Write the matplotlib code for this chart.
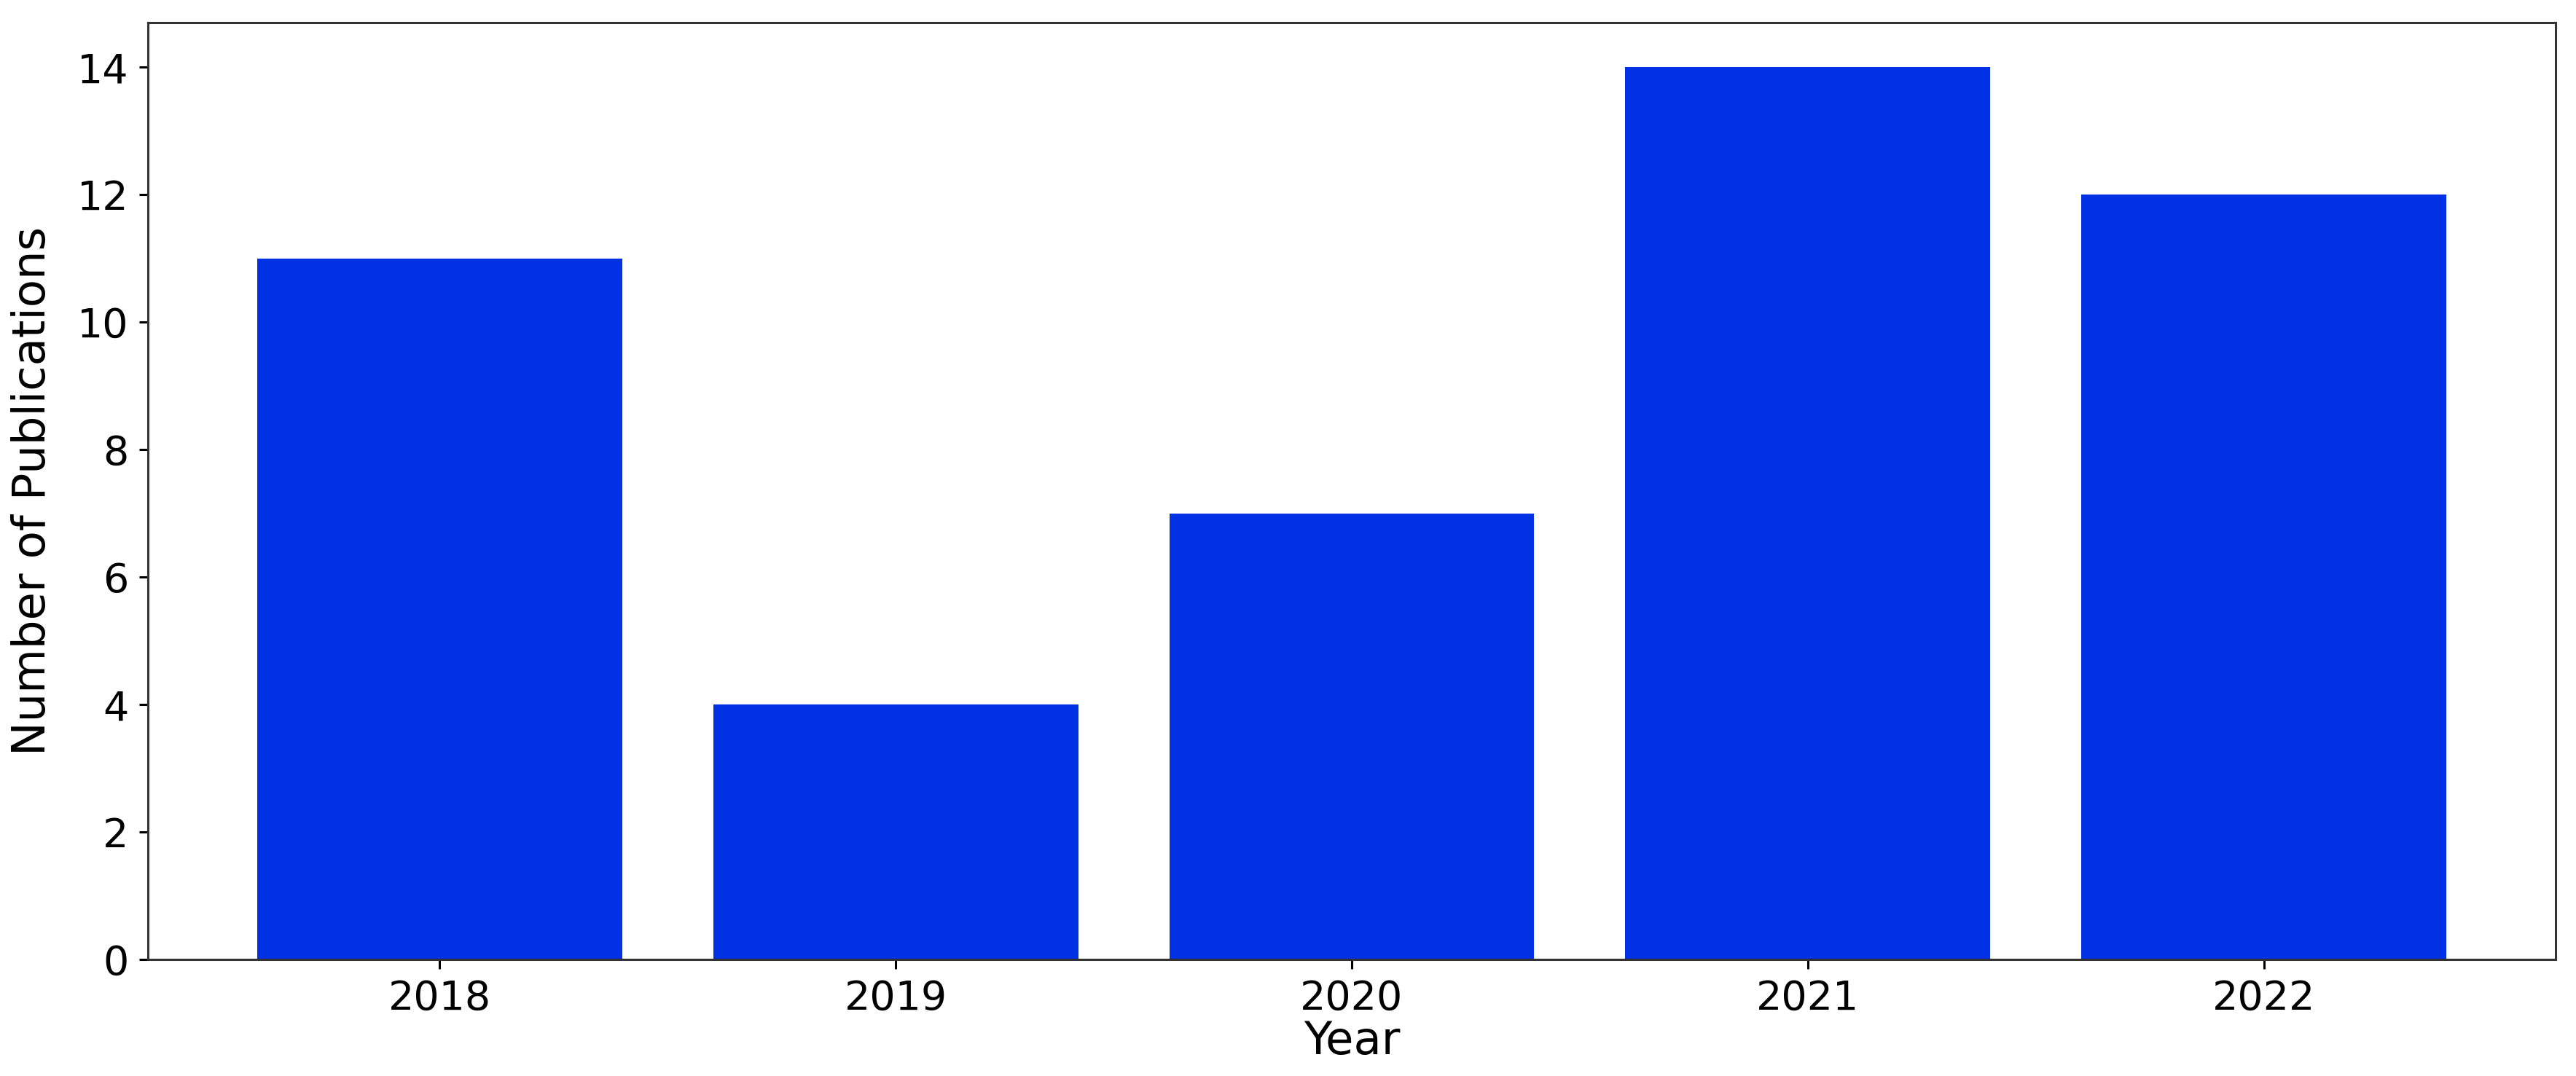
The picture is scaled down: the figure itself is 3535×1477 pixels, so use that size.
import matplotlib
matplotlib.use("Agg")
import matplotlib.pyplot as plt

# publications per year
years = ["2018", "2019", "2020", "2021", "2022"]
publications = [11, 4, 7, 14, 12]

fig = plt.figure(figsize=(35.35, 14.77), dpi=100)
ax = fig.add_subplot(111)
fig.subplots_adjust(left=0.0574, right=0.9921, top=0.979, bottom=0.1083)

ax.bar(years, publications, color="#0031E4", width=0.8)

ax.set_xlabel("Year", fontsize=45, labelpad=2)
ax.set_ylabel("Number of Publications", fontsize=45, labelpad=22)
ax.tick_params(axis="both", labelsize=40, length=9, width=2.2, pad=10)

for spine in ax.spines.values():
    spine.set_linewidth(2.2)
    spine.set_color("#333333")

fig.savefig("out.png", dpi=100)
